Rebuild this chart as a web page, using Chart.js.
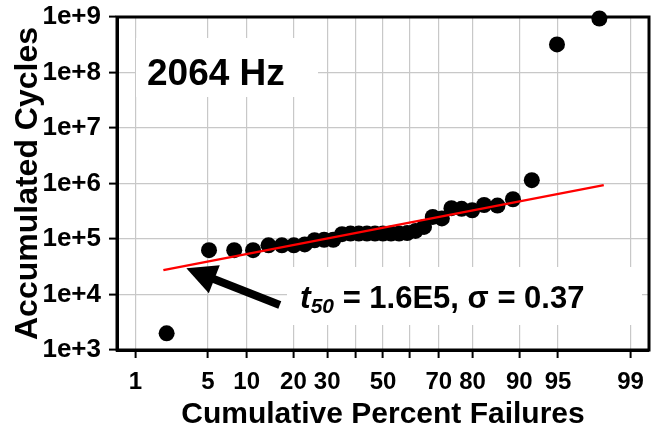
<!DOCTYPE html>
<html><head><meta charset="utf-8">
<script src="https://cdn.jsdelivr.net/npm/chart.js@4/dist/chart.umd.min.js"></script>
<style>html,body{margin:0;padding:0;background:#fff;}#wrap{width:657px;height:436px;}</style>
</head><body><div id="wrap"><canvas id="c" width="657" height="436"></canvas></div>
<script>
// ---- data ----
const failurePercent = [2.1,5.1,8.1,11.1,14.1,17.1,20.1,23.1,26.0,29.0,32.0,35.0,38.0,41.0,44.0,47.0,50.0,53.0,56.0,59.0,62.0,65.0,68.0,71.0,74.0,77.0,79.9,82.9,85.9,88.9,91.9,94.9,97.9];
const accumulatedCycles = [2000,63000,63000,63000,77000,77000,77000,80000,95000,97000,97000,122000,125000,125000,125000,125000,125000,125000,125000,128000,140000,165000,250000,235000,360000,350000,330000,410000,400000,520000,1150000,320000000,940000000];
const fitPercent = [1.95, 98.1];
const fitCycles = [27500, 935000];
const xTickPercents = [1,5,10,20,30,40,50,60,70,80,90,95,99];
const xTickLabels = ['1','5','10','20','30','','50','','70','80','90','95','99'];
const yTickValues = [1e3,1e4,1e5,1e6,1e7,1e8,1e9];
const yTickLabels = ['1e+3','1e+4','1e+5','1e+6','1e+7','1e+8','1e+9'];
const arrowHead = {pct:3.23, cycles:29600};
const arrowTail = {pct:16.6, cycles:6460};
const freqLabel = '2064 Hz';
const fitLabelParts = ['t', '50', ' = 1.6E5, \u03C3 = 0.37'];

// normal probability (probit) transform for the x axis
function probit(p){
 const a=[-3.969683028665376e+01,2.209460984245205e+02,-2.759285104469687e+02,1.383577518672690e+02,-3.066479806614716e+01,2.506628277459239e+00];
 const b=[-5.447609879822406e+01,1.615858368580409e+02,-1.556989798598866e+02,6.680131188771972e+01,-1.328068155288572e+01];
 const c=[-7.784894002430293e-03,-3.223964580411365e-01,-2.400758277161838e+00,-2.549732539343734e+00,4.374664141464968e+00,2.938163982698783e+00];
 const d=[7.784695709041462e-03,3.224671290700398e-01,2.445134137142996e+00,3.754408661907416e+00];
 const pl=0.02425, ph=1-pl; let q,r;
 if(p<pl){q=Math.sqrt(-2*Math.log(p));return (((((c[0]*q+c[1])*q+c[2])*q+c[3])*q+c[4])*q+c[5])/((((d[0]*q+d[1])*q+d[2])*q+d[3])*q+1);}
 if(p<=ph){q=p-0.5;r=q*q;return (((((a[0]*r+a[1])*r+a[2])*r+a[3])*r+a[4])*r+a[5])*q/(((((b[0]*r+b[1])*r+b[2])*r+b[3])*r+b[4])*r+1);}
 q=Math.sqrt(-2*Math.log(1-p));return -(((((c[0]*q+c[1])*q+c[2])*q+c[3])*q+c[4])*q+c[5])/((((d[0]*q+d[1])*q+d[2])*q+d[3])*q+1);
}

const FONT = "'Liberation Sans', Arial, Helvetica, sans-serif";

const decorPlugin = {
 id:'decor',
 beforeDatasetsDraw(chart){
  const {ctx, chartArea:a} = chart;
  ctx.save();
  ctx.fillStyle='#fff';
  ctx.fillRect(a.left+19, a.top+21, 182, 59);
  ctx.fillRect(a.left+170, a.top+250, 355, 58);
  ctx.strokeStyle='#000'; ctx.lineWidth=3;
  ctx.strokeRect(a.left, a.top, a.right-a.left, a.bottom-a.top);
  ctx.fillStyle='#000'; ctx.textBaseline='alphabetic'; ctx.textAlign='left';
  ctx.font = "bold 37px " + FONT;
  ctx.fillText(freqLabel, a.left+30, a.top+68);
  let x = a.left+183, y = a.top+291;
  ctx.font = "italic bold 32px " + FONT;
  ctx.fillText(fitLabelParts[0], x, y); x += ctx.measureText(fitLabelParts[0]).width;
  ctx.font = "italic bold 21px " + FONT;
  ctx.fillText(fitLabelParts[1], x, y+5); x += ctx.measureText(fitLabelParts[1]).width;
  ctx.font = "bold 31px " + FONT;
  ctx.fillText(fitLabelParts[2], x, y);
  ctx.restore();
 },
 afterDatasetsDraw(chart){
  const {ctx, scales:{x:xs, y:ys}} = chart;
  const hx = xs.getPixelForValue(probit(arrowHead.pct/100)), hy = ys.getPixelForValue(arrowHead.cycles);
  const tx = xs.getPixelForValue(probit(arrowTail.pct/100)), ty = ys.getPixelForValue(arrowTail.cycles);
  const dx = hx-tx, dy = hy-ty, L = Math.hypot(dx,dy), ux = dx/L, uy = dy/L;
  const headLen = 30, headHalf = 15;
  const bx = hx - ux*headLen, by = hy - uy*headLen;
  ctx.save();
  ctx.strokeStyle='#000'; ctx.fillStyle='#000'; ctx.lineWidth=8; ctx.lineCap='butt';
  ctx.beginPath(); ctx.moveTo(tx,ty); ctx.lineTo(bx+ux*2,by+uy*2); ctx.stroke();
  ctx.beginPath(); ctx.moveTo(hx,hy); ctx.lineTo(bx - uy*headHalf, by + ux*headHalf); ctx.lineTo(bx + uy*headHalf, by - ux*headHalf); ctx.closePath(); ctx.fill();
  ctx.restore();
 }
};

function noEdgePadding(s){ s.paddingTop=0; s.paddingBottom=0; s.paddingLeft=0; s.paddingRight=0; }

const ctx = document.getElementById('c').getContext('2d');
new Chart(ctx, {
 type:'scatter',
 data:{datasets:[
  {type:'line', label:'fit', data: fitPercent.map((p,i)=>({x:probit(p/100), y:fitCycles[i]})), borderColor:'#ff0000', borderWidth:2.5, pointRadius:0, fill:false, order:0},
  {label:'failures', data: failurePercent.map((p,i)=>({x:probit(p/100), y:accumulatedCycles[i]})), backgroundColor:'#000', borderColor:'#000', borderWidth:0, pointRadius:8, clip:false, order:1}
 ]},
 options:{
  responsive:false, animation:false, devicePixelRatio:1,
  layout:{padding:{left:0,right:8,top:17,bottom:0}},
  plugins:{legend:{display:false}, tooltip:{enabled:false}},
  scales:{
   x:{type:'linear', min:-2.5, max:2.5,
    afterBuildTicks:s=>{s.ticks = xTickPercents.map(p=>({value:probit(p/100)}));},
    afterFit:s=>{s.height=86; noEdgePadding(s);},
    ticks:{callback:(v,i)=>xTickLabels[i], color:'#000', font:{family:FONT,size:24,weight:'bold'}, padding:10, maxRotation:0, autoSkip:false},
    grid:{color:'#c8c8c8', lineWidth:1.2, tickColor:'#000', tickWidth:2, tickLength:8},
    border:{color:'#000', width:3},
    title:{display:true, text:'Cumulative Percent Failures', color:'#000', font:{family:FONT,size:30,weight:'bold'}, padding:{top:0,bottom:3}}
   },
   y:{type:'logarithmic', min:1e3, max:1e9,
    afterBuildTicks:s=>{s.ticks = yTickValues.map(v=>({value:v}));},
    afterFit:s=>{s.width=117; noEdgePadding(s);},
    ticks:{callback:(v,i)=>yTickLabels[i], color:'#000', font:{family:FONT,size:26,weight:'bold'}, padding:8, autoSkip:false},
    grid:{color:'#c8c8c8', lineWidth:1.2, tickColor:'#000', tickWidth:2, tickLength:8},
    border:{color:'#000', width:3},
    title:{display:true, text:'Accumulated Cycles', color:'#000', font:{family:FONT,size:32,weight:'bold'}, padding:{top:9,bottom:0}}
   }
  }
 },
 plugins:[decorPlugin]
});
</script></body></html>
